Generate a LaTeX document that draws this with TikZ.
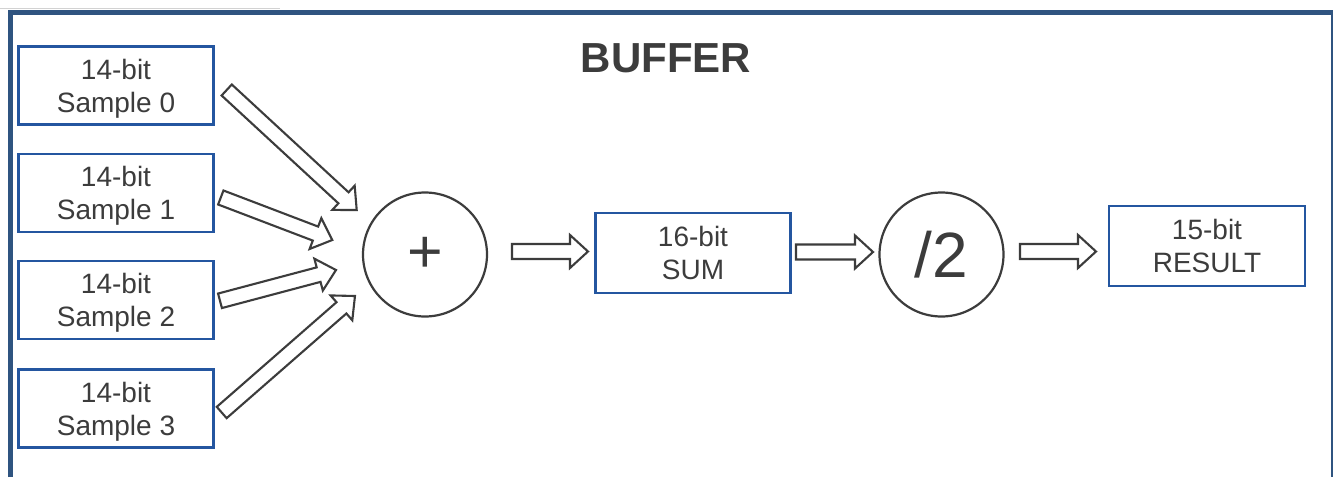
\documentclass[tikz,border=0pt]{standalone}
\usepackage{fontspec}
\setmainfont{Liberation Sans}
\usetikzlibrary{calc}
\definecolor{framecol}{HTML}{2F5480}
\definecolor{boxcol}{HTML}{2456A0}
\definecolor{inkcol}{HTML}{3C3C3C}
\tikzset{
  datbox/.style={draw=boxcol, line width=2.2pt, fill=white, inner sep=0pt,
    minimum width=195pt, minimum height=78pt, align=center, text=inkcol,
    text depth=0pt, font=\fontsize{28}{33}\selectfont},
  opcircle/.style={circle, draw=inkcol, line width=2.2pt, inner sep=0pt,
    minimum size=124pt, text=inkcol},
  fatline/.style={draw=inkcol, fill=white, line width=2.1pt, line join=miter}
}
% hollow block arrow from #1 to #2 (shaft 15pt, head 33pt wide, 18pt long)
\newcommand\fatarrow[2]{%
  \path[fatline] let \p1=(#1), \p2=(#2),
      \n1={atan2(\y2-\y1,\x2-\x1)}, \n2={veclen(\x2-\x1,\y2-\y1)} in
    [shift={(\p1)}, rotate=\n1]
    (0,-7.5) -- (\n2-18,-7.5) -- (\n2-18,-16.5) -- (\n2,0)
    -- (\n2-18,16.5) -- (\n2-18,7.5) -- (0,7.5) -- cycle;}
\begin{document}
\begin{tikzpicture}[x=1pt,y=-1pt]
\useasboundingbox (0,0) rectangle (1333,477);
\fill[white] (0,0) rectangle (1333,477);

% buffer frame
\draw[gray!35, line width=1pt] (0,8.3) -- (280,8.3);
\draw[framecol, line width=5pt, line join=miter] (10.8,477) -- (10.8,12.5) -- (1333,12.5);
\draw[framecol, line width=1.8pt] (1332,12.5) -- (1332,477);

\node[text=inkcol, font=\fontsize{42}{48}\selectfont\bfseries, anchor=base] (title) at (666,72.7) {BUFFER};

% input samples
\node[datbox] (s0) at (116,85.5) {14-bit\\Sample 0};
\node[datbox] (s1) at (116,193) {14-bit\\Sample 1};
\node[datbox] (s2) at (116,300) {14-bit\\Sample 2};
\node[datbox] (s3) at (116,408.5) {14-bit\\Sample 3};

% operators and results
\node[opcircle, font=\fontsize{61}{62}\selectfont] (add) at (425,254.5) {+};
\node[datbox, minimum height=80pt] (sum) at (693,253) {16-bit\\SUM};
\node[opcircle, font=\fontsize{64}{66}\selectfont] (div) at (941.5,254.5) {/2};
\node[datbox, minimum width=196pt, minimum height=80pt] (res) at (1207,246) {15-bit\\RESULT};

% arrow end points
\coordinate (a0s) at (226.7,90);   \coordinate (a0e) at (356.7,210);
\coordinate (a1s) at (220.8,197.5); \coordinate (a1e) at (332.3,240);
\coordinate (a2s) at (220,300.8);  \coordinate (a2e) at (336,270);
\coordinate (a3s) at (221.7,412.5); \coordinate (a3e) at (355,296);
\coordinate (h1s) at (512,251.5);  \coordinate (h1e) at (588,251.5);
\coordinate (h2s) at (796,252);    \coordinate (h2e) at (873,252);
\coordinate (h3s) at (1020,251.5); \coordinate (h3e) at (1096,251.5);

\fatarrow{a0s}{a0e}
\fatarrow{a1s}{a1e}
\fatarrow{a2s}{a2e}
\fatarrow{a3s}{a3e}
\fatarrow{h1s}{h1e}
\fatarrow{h2s}{h2e}
\fatarrow{h3s}{h3e}
\end{tikzpicture}
\end{document}
